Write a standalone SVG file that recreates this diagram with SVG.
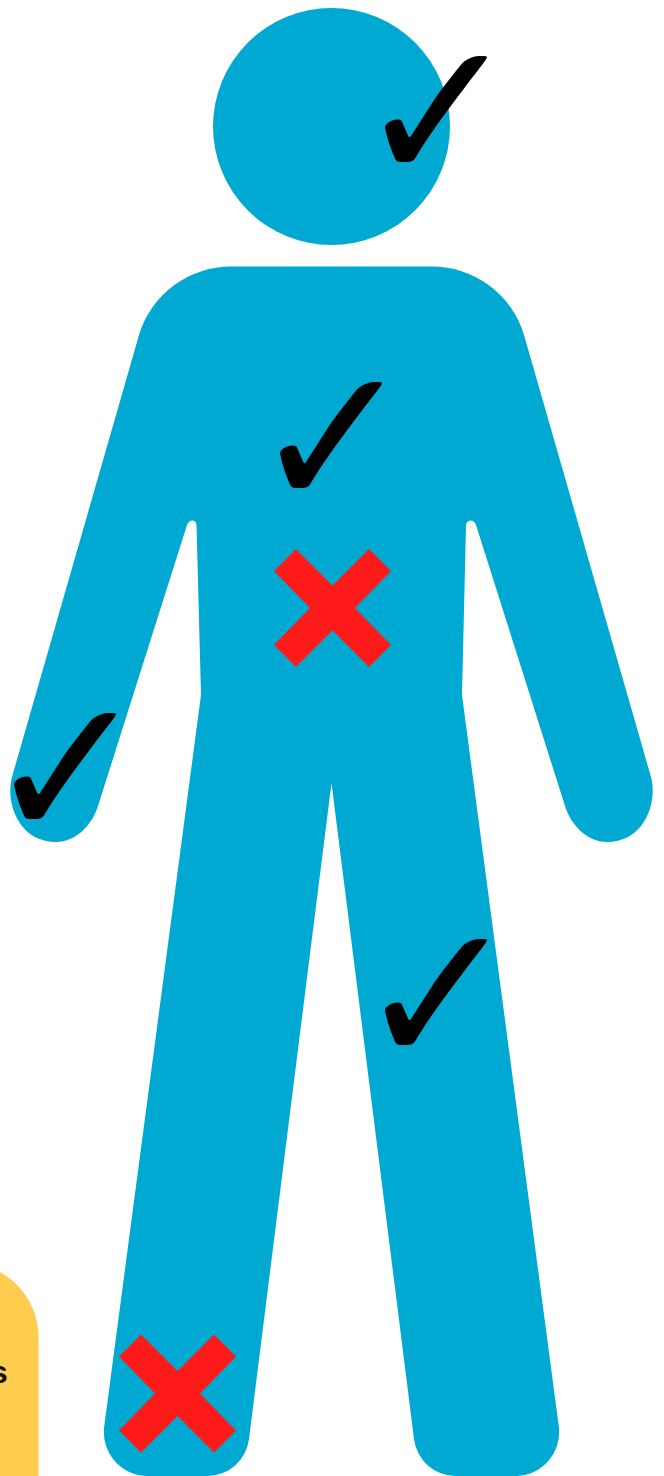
<svg xmlns="http://www.w3.org/2000/svg" width="664" height="1476" viewBox="0 0 664 1476">
<style>
.b{fill:#00a9d2}
.x{fill:#ff1a1a}
.t{font-family:"Liberation Sans",Arial,sans-serif;font-weight:700;font-size:32px;fill:#111}
</style>
<defs>
<path id="check" d="M0 72C0 69 3 67 7 65C11 63.500 15 63.500 16.500 65L23 80C24 82 25 82 26 80.500L50 43C59 30 69 18 77 8C81 4 87 1 94 .5C98 .2 102 .5 102 1.500C102 3 100 5.500 97 9.500C88 21 76 37 64 53C52 69 38 89 30 103C28 106 25 106.500 19 106.500C13 106.500 11 106 10 103C6 94 2 83 0 72Z"/>
<path id="cross" d="M-36.500 -59L0 -22.500L36.500 -59L58.500 -37L22.500 0L58.500 37L36.500 59L0 22.500L-36.500 59L-58.500 37L-22.500 0L-58.500 -37Z"/>
</defs>
<g id="label-box">
<rect x="-200" y="1263" width="238.500" height="320" rx="74" fill="#ffcc4d"/>
<text class="t" x="-10" y="1383">s</text>
<text class="t" x="-13" y="1495">o</text>
</g>
<g id="head"><circle class="b" cx="331.500" cy="126.500" r="118.500"/></g>
<g id="body">
<path class="b" d="M232 266.500H431A96 96 0 0 1 524 335L651 777C658 803 644 842 607 842C587 842 571 825 565 806L476 525C474 519 467 519 466 525L462 695L559 1428A44 44 0 0 1 517 1476H455A42 42 0 0 1 414 1439L331.500 783L249 1439A42 42 0 0 1 208 1476H146A44 44 0 0 1 104 1428L201 695L196.500 525C196 519 189 519 187 525L98 806C92 825 76 842 56 842C19 842 5 803 12 777L139 335A96 96 0 0 1 232 266.500Z"/>
</g>
<g id="check-head"><use href="#check" x="385" y="55.500"/></g>
<g id="check-chest"><use href="#check" x="280" y="381.500"/></g>
<g id="check-arm"><use href="#check" x="14" y="712.500"/></g>
<g id="check-leg"><use href="#check" x="385" y="938.500"/></g>
<g id="cross-belly"><use class="x" href="#cross" x="332.500" y="608"/></g>
<g id="cross-foot"><use class="x" href="#cross" x="177.500" y="1393.500"/></g>
</svg>
